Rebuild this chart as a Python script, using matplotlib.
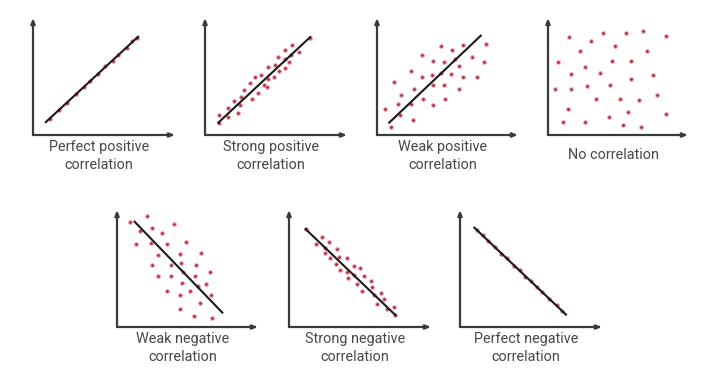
import matplotlib
matplotlib.use('Agg')
import matplotlib.pyplot as plt

plt.rcParams['font.family'] = ['Roboto', 'DejaVu Sans']

# point positions, 0-100 inside each axis box
perfect_pos_x = [12, 18, 24, 30, 36, 40, 46, 51, 56, 60, 66, 70, 73]
perfect_pos_y = [14.0, 21.5, 27.5, 35.0, 41.0, 46.2, 52.2, 58.6, 63.4, 68.8, 74.6, 80.0, 82.5]
perfect_pos_line = ([9, 74], [11, 84])

strong_pos_x = [9.9, 9.9, 16.5, 16.5, 20.7, 23.1, 24.7, 27.8, 25.4, 31.8, 33.4, 35.3, 37.2, 39.1, 41.2,
                43.5, 44.2, 44.2, 48.9, 49.4, 51.8, 51.3, 56.0, 56.5, 56.5, 59.3, 60.7, 61.6, 65.9, 74.1]
strong_pos_y = [17.1, 10.0, 22.9, 15.7, 29.4, 19.1, 25.7, 38.6, 32.9, 44.3, 30.6, 49.4, 36.3, 51.4, 42.9,
                40.9, 57.7, 47.7, 49.4, 60.0, 54.3, 66.6, 57.1, 72.3, 64.9, 62.0, 68.6, 77.1, 70.6, 82.9]
strong_pos_line = ([9.4, 74.1], [10.6, 83.7])

weak_pos_x = [5.4, 10.1, 11.8, 14.8, 16.5, 17.2, 24.2, 24.2, 25.4, 25.9, 31.8, 31.8, 32.9, 38.8, 40.0, 40.0, 40.0,
              45.4, 45.4, 47.8, 47.8, 48.2, 52.5, 53.4, 55.3, 58.1, 58.1, 60.9, 60.9, 67.1, 70.6, 76.0, 77.6]
weak_pos_y = [22.0, 7.1, 44.9, 26.6, 17.1, 34.3, 55.1, 26.6, 12.9, 39.1, 68.6, 50.0, 30.6, 51.4, 62.9, 42.9, 25.7,
              76.3, 53.4, 62.0, 42.9, 30.6, 52.3, 72.9, 64.9, 59.1, 39.1, 77.1, 50.0, 66.6, 50.0, 62.0, 77.7]
weak_pos_line = ([8.7, 73.6], [10.6, 84.9])

no_corr_x = [14.7, 39.1, 55.5, 68.0, 84.1, 30.8, 47.9, 23.0, 70.4, 7.1, 46.0, 59.2, 26.5, 16.6, 37.2, 59.0, 75.1,
             5.2, 16.6, 27.7, 44.3, 34.4, 51.4, 64.9, 78.2, 14.0, 57.3, 10.4, 26.5, 43.6, 53.3, 66.4, 84.1]
no_corr_y = [83.4, 87.1, 87.1, 89.1, 84.9, 80.0, 75.7, 72.0, 72.0, 62.3, 63.4, 62.9, 57.7, 52.0, 53.4, 47.7, 51.4,
             39.1, 39.1, 42.3, 42.9, 30.9, 30.9, 30.0, 34.3, 22.3, 20.0, 10.9, 10.9, 15.1, 8.6, 7.1, 17.7]

weak_neg_x = [9.5, 21.3, 40.2, 16.5, 25.1, 32.2, 13.7, 24.3, 35.7, 48.7, 29.1, 44.4, 59.8, 25.1, 38.5, 45.6, 55.8,
              29.1, 38.5, 46.8, 55.1, 66.2, 46.3, 57.4, 63.4, 35.5, 44.9, 52.0, 66.9, 58.6, 44.4, 54.4, 67.4]
weak_neg_y = [89.4, 95.1, 87.7, 82.0, 84.3, 80.6, 70.6, 72.0, 70.6, 72.3, 61.4, 62.6, 63.4, 52.9, 52.9, 54.3, 52.6,
              43.4, 44.0, 46.6, 43.4, 46.6, 38.0, 35.1, 36.6, 30.9, 27.7, 30.9, 27.7, 20.3, 15.7, 9.1, 7.7]
weak_neg_line = ([12.5, 74.7], [90.0, 12.3])

strong_neg_x = [11.7, 23.5, 28.2, 18.8, 25.4, 33.6, 25.4, 35.2, 28.9, 40.6, 32.9, 46.0, 35.9, 40.6, 50.0,
                41.3, 46.0, 53.1, 47.7, 57.7, 51.6, 58.2, 60.1, 64.8, 61.7, 67.1, 68.8, 74.2, 74.6]
strong_neg_y = [83.7, 77.1, 72.9, 70.6, 67.7, 66.6, 62.9, 60.0, 58.6, 58.6, 53.7, 52.0, 48.6, 47.1, 50.6,
                42.0, 44.3, 43.7, 37.1, 39.1, 30.9, 34.3, 27.7, 29.4, 20.0, 23.7, 15.7, 17.1, 10.0]
strong_neg_line = ([11.7, 75.1], [83.7, 10.0])

perfect_neg_x = [12, 16, 20, 25, 29, 33, 38, 42, 46, 50, 54, 58, 63, 68, 72]
perfect_neg_y = [82.7, 78.4, 73.2, 68.0, 62.6, 58.9, 52.4, 48.5, 43.1, 39.2, 33.9, 30.0, 23.6, 18.4, 13.8]
perfect_neg_line = ([10.1, 74.6], [84.9, 10.6])

labels = ['Perfect positive\ncorrelation', 'Strong positive\ncorrelation', 'Weak positive\ncorrelation',
          'No correlation', 'Weak negative\ncorrelation', 'Strong negative\ncorrelation',
          'Perfect negative\ncorrelation']

panels = [
    (perfect_pos_x, perfect_pos_y, perfect_pos_line),
    (strong_pos_x, strong_pos_y, strong_pos_line),
    (weak_pos_x, weak_pos_y, weak_pos_line),
    (no_corr_x, no_corr_y, None),
    (weak_neg_x, weak_neg_y, weak_neg_line),
    (strong_neg_x, strong_neg_y, strong_neg_line),
    (perfect_neg_x, perfect_neg_y, perfect_neg_line),
]

# axis boxes in pixels: left, top, right, bottom
boxes = [(33, 18, 175, 135), (205, 18, 347, 135), (377, 18, 518, 135), (548, 18, 688, 135),
         (117, 210, 258, 327), (289, 210, 431, 327), (460, 210, 602, 327)]

W, H = 720, 386
fig = plt.figure(figsize=(W / 100, H / 100), dpi=100)

for (px, py, line), (l, t, r, b), text in zip(panels, boxes, labels):
    ax = fig.add_axes([l / W, 1 - b / H, (r - l) / W, (b - t) / H])
    ax.set_xlim(0, 100)
    ax.set_ylim(0, 100)
    ax.axis('off')
    arrow = dict(arrowstyle='-|>,head_length=0.3,head_width=0.12', color='#3a3a3a', lw=1.6,
                 shrinkA=0, shrinkB=0)
    ax.annotate('', xy=(0, 100), xytext=(0, 0), arrowprops=arrow, annotation_clip=False)
    ax.annotate('', xy=(100, 0), xytext=(0, 0), arrowprops=arrow, annotation_clip=False)
    ax.plot(px, py, 'o', ms=2.6, mfc='#a02838', mec='#f29aa8', mew=0.7, clip_on=False, zorder=2)
    if line is not None:
        ax.plot(line[0], line[1], color='#1a1a1a', lw=1.5, zorder=3)
    cx = (l + r) / 2 - 5
    cy = b + 21 if '\n' in text else b + 20
    fig.text(cx / W, 1 - cy / H, text, ha='center', va='center', fontsize=10.4,
             color='#474747', linespacing=1.3)

fig.savefig('out.png', dpi=100, facecolor='white')
